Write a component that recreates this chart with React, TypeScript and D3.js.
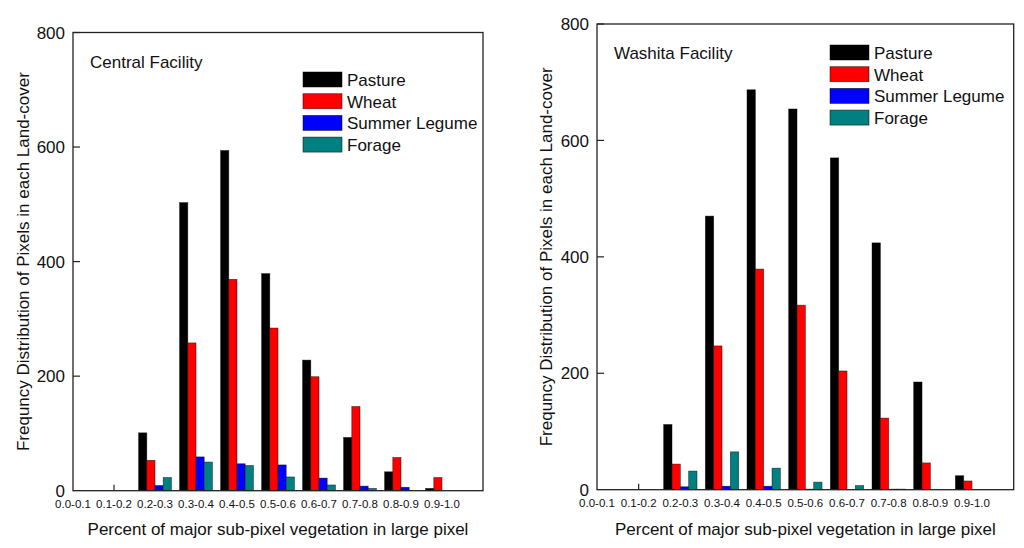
import React from "react";
import { scaleBand, scaleLinear } from "d3";

const categories = [
  "0.0-0.1", "0.1-0.2", "0.2-0.3", "0.3-0.4", "0.4-0.5",
  "0.5-0.6", "0.6-0.7", "0.7-0.8", "0.8-0.9", "0.9-1.0",
];
const seriesNames = ["Pasture", "Wheat", "Summer Legume", "Forage"];
const seriesColors = ["#000000", "#ff0000", "#0000ff", "#008080"];
const yTicks = [0, 200, 400, 600, 800];

// Central Facility
const centralPasture = [0, 0, 101, 503, 594, 379, 228, 93, 33, 4];
const centralWheat = [0, 0, 53, 258, 369, 284, 199, 147, 58, 23];
const centralLegume = [0, 0, 9, 59, 47, 45, 22, 8, 6, 0];
const centralForage = [0, 0, 23, 50, 44, 24, 10, 4, 0, 0];

// Washita Facility
const washitaPasture = [0, 0, 112, 470, 687, 654, 570, 424, 185, 24];
const washitaWheat = [0, 0, 44, 247, 379, 317, 204, 123, 46, 15];
const washitaLegume = [0, 0, 5, 6, 6, 1, 0, 1, 0, 0];
const washitaForage = [0, 0, 32, 65, 37, 13, 7, 1, 0, 0];

const FONT = "'Liberation Sans', Arial, sans-serif";

type Frame = { left: number; right: number; top: number; bottom: number };

type PanelProps = {
  title: string;
  series: number[][];
  frame: Frame;
  titlePos: [number, number];
  legendPos: [number, number];
  yTitleX: number;
};

const Panel = ({ title, series, frame, titlePos, legendPos, yTitleX }: PanelProps) => {
  const x = scaleLinear().domain([0, categories.length]).range([frame.left, frame.right]);
  const y = scaleLinear().domain([0, 800]).range([frame.bottom, frame.top]);
  const step = x(1) - x(0);
  const inner = scaleBand<number>()
    .domain(seriesNames.map((_, i) => i))
    .range([-step * 0.4, step * 0.4]);
  const midX = (frame.left + frame.right) / 2;
  const midY = (frame.top + frame.bottom) / 2;

  return (
    <g fontFamily={FONT} fill="#111">
      {series.map((vals, s) =>
        vals.map((v, i) =>
          v > 0 ? (
            <rect
              key={`${s}-${i}`}
              x={x(i) + (inner(s) as number)}
              y={y(v)}
              width={inner.bandwidth()}
              height={y(0) - y(v)}
              fill={seriesColors[s]}
              stroke="#000"
              strokeOpacity={0.6}
              strokeWidth={0.7}
            />
          ) : null
        )
      )}
      <rect
        x={frame.left}
        y={frame.top}
        width={frame.right - frame.left}
        height={frame.bottom - frame.top}
        fill="none"
        stroke="#222"
        strokeWidth={1.3}
      />
      {yTicks.map((t) => (
        <g key={t}>
          {t > 0 && (
            <line x1={frame.left} x2={frame.left + 7} y1={y(t)} y2={y(t)} stroke="#222" strokeWidth={1.2} />
          )}
          <text x={frame.left - 8} y={y(t)} dy="0.36em" textAnchor="end" fontSize={17}>
            {t}
          </text>
        </g>
      ))}
      <line x1={x(1)} x2={x(1)} y1={frame.bottom} y2={frame.bottom - 6} stroke="#222" strokeWidth={1.2} />
      {categories.map((c, i) => (
        <text key={c} x={x(i)} y={frame.bottom + 17} textAnchor="middle" fontSize={11.5}>
          {c}
        </text>
      ))}
      <text x={midX} y={535} textAnchor="middle" fontSize={17}>
        Percent of major sub-pixel vegetation in large pixel
      </text>
      <text
        transform={`translate(${yTitleX},${midY}) rotate(-90)`}
        textAnchor="middle"
        fontSize={17}
      >
        Frequncy Distribution of Pixels in each Land-cover
      </text>
      <text x={titlePos[0]} y={titlePos[1]} fontSize={17}>
        {title}
      </text>
      {seriesNames.map((n, s) => (
        <g key={n} transform={`translate(${legendPos[0]},${legendPos[1] + s * 21.7})`}>
          <rect width={39} height={15} fill={seriesColors[s]} stroke="#000" strokeOpacity={0.6} strokeWidth={0.8} />
          <text x={44} y={14} fontSize={17}>
            {n}
          </text>
        </g>
      ))}
    </g>
  );
};

export default function App() {
  return (
    <svg
      width={1024}
      height={548}
      style={{ position: "absolute", left: 0, top: 0, background: "#fff" }}
    >
      <Panel
        title="Central Facility"
        series={[centralPasture, centralWheat, centralLegume, centralForage]}
        frame={{ left: 73, right: 483, top: 32.5, bottom: 490.7 }}
        titlePos={[90, 68]}
        legendPos={[303, 72]}
        yTitleX={29}
      />
      <Panel
        title="Washita Facility"
        series={[washitaPasture, washitaWheat, washitaLegume, washitaForage]}
        frame={{ left: 597, right: 1013.7, top: 24, bottom: 489.7 }}
        titlePos={[614, 59]}
        legendPos={[830, 45]}
        yTitleX={552}
      />
    </svg>
  );
}
